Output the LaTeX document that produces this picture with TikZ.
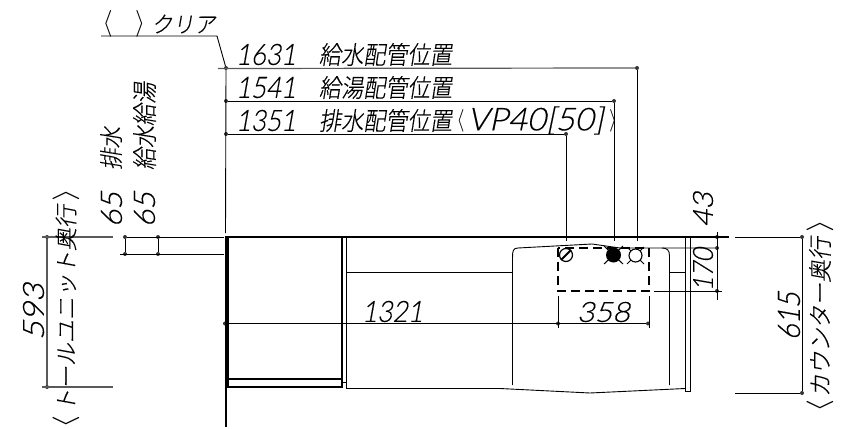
\documentclass[tikz,border=0pt]{standalone}
\usepackage{fontspec}
\usepackage{graphicx}
\newfontfamily\cadj[FakeSlant=0.18,FakeBold=0.3]{Noto Sans CJK JP Light}
\newfontfamily\cadn[FakeSlant=0.2,FakeBold=0.3]{Lato Light}
\newcommand{\fitj}[3]{\resizebox{#1pt}{#2pt}{\cadj #3}}
\newcommand{\fitn}[3]{\resizebox{#1pt}{#2pt}{\cadn #3}}
\newcommand{\fitm}[3]{\resizebox{#1pt}{#2pt}{$#3$}}
\tikzset{
  lbl/.style={inner sep=0pt,outer sep=0pt,text=black},
  thin line/.style={line width=0.9pt,draw=black},
  gray line/.style={line width=1.2pt,draw=black!65},
  heavy/.style={line width=2pt,draw=black},
  mid/.style={line width=1.2pt,draw=black},
  dashbox/.style={line width=1.6pt,draw=black,dash pattern=on 9pt off 5pt},
  ddot/.style={circle,fill=black!80,inner sep=0pt,minimum size=4pt}
}
\begin{document}
\begin{tikzpicture}[x=1pt,y=-1pt]
\useasboundingbox (0,0) rectangle (842,428);
% dimension points
\foreach \n/\x/\y in {a/226/68,b/226/101,c/226/134,d/637/68,e/614/101,f/566/134,
  g/125/237,h/158/237,i/125/254,j/158/254,k/47/237,l/47/387,m/802/237,n/802/393,
  o/717/237,p/717/248,q/717/291,r/225/323.5,s/558/323.5,t/648/323.5}
  {\node[ddot] (\n) at (\x,\y) {};}
\coordinate (l0) at (101,36); \coordinate (l1) at (217,36);
\coordinate (a0) at (218,68.5);
\coordinate (vtop) at (225.5,233);
\coordinate (d1) at (637,241); \coordinate (e1) at (614,241); \coordinate (f1) at (566,241);
\coordinate (k0) at (113,237); \coordinate (k1) at (42,237);
\coordinate (l0a) at (113,387); \coordinate (l1a) at (42,387);
\coordinate (g1) at (224,237); \coordinate (i0) at (120,254); \coordinate (i1) at (224,254);
\coordinate (m0) at (735,237); \coordinate (n0) at (735,393);
\coordinate (o0) at (717,232); \coordinate (q1) at (717,300);
\coordinate (q0) at (654,291);\coordinate (q2) at (722,291);
\coordinate (p0) at (640,248);
% dimension lines
\draw[thin line] (l0) -- (l1) -- (a);
\draw[gray line] (a0) -- (d);
\draw[thin line] (vtop) -- (a);
\draw[thin line] (b) -- (e);
\draw[thin line] (c) -- (f);
\draw[thin line] (d) -- (d1);
\draw[thin line] (e) -- (e1);
\draw[thin line] (f) -- (f1);
\draw[gray line] (k1) -- (k0);
\draw[gray line] (l1a) -- (l0a);
\draw[gray line] (k) -- (l);
\draw[thin line] (g) -- (g1);
\draw[thin line] (i0) -- (i1);
\draw[thin line] (g) -- (i);
\draw[thin line] (h) -- (j);
\draw[thin line] (m0) -- (m);
\draw[thin line] (m) -- (n);
\draw[thin line] (n0) -- (n);
\draw[thin line] (o0) -- (q1);
\draw[thin line] (q0) -- (q2);
\draw[thin line] (r) -- (t);
\draw[thin line] (558,296) -- (558,328);
\draw[thin line] (649,296) -- (649,328);
% tall unit and counter
\draw[heavy] (225,237) -- (729,237);
\draw[heavy] (225.5,237) -- (225.5,427);
\draw[mid] (228,237) -- (228,387) -- (342,387);
\draw[mid] (226,379) -- (342,379);
\draw[heavy,line width=1.4pt] (342,237) -- (342,388);
\draw[thin line] (346,237) -- (346,388);
\draw[thin line] (342,382) -- (346,382);
\draw[thin line] (346,272) -- (512,272);
\draw[thin line] (670,272) -- (685,272);
\draw[thin line] (512.5,385) -- (512.5,258) .. controls (512.5,251) and (513,248) .. (518,248) -- (592,244) -- (620,248) -- (p);
\draw[thin line] (662,248) .. controls (667,248) and (669.5,250) .. (669.5,256) -- (669.5,385);
\draw[thin line] (346,388.5) -- (500,388.5) -- (590,393) -- (685,388.5);
\draw[mid] (685.5,237) -- (685.5,391.5) -- (690.5,391.5) -- (690.5,237);
% piping area
\draw[dashbox] (558,248) rectangle (649,291);
\draw[line width=1.2pt,fill=white] (566,255) circle (6.5);
\draw[line width=1.8pt] (561,260) -- (571,250);
\draw[line width=1pt] (604,246) -- (623,264) (604,264) -- (623,246);
\fill (613.5,255) circle (7.5);
\draw[line width=1pt] (627,247) -- (644,264) (627,264) -- (644,247);
\draw[line width=1.1pt,fill=white] (635.5,255.5) circle (6.5);
% texts
\node[lbl] (t0a) at (107.5,24) {\fitm{10}{20}{\langle}};
\node[lbl] (t0b) at (140,24) {\fitm{10}{20}{\rangle}};
\node[lbl] (t0) at (183.5,24) {\fitj{64}{18}{クリア}};
\node[lbl] (t1n) at (266,54.5) {\fitn{60}{21}{1631}};
\node[lbl] (t1j) at (385.5,54.5) {\fitj{133}{21}{給水配管位置}};
\node[lbl] (t2n) at (266,87.5) {\fitn{60}{21}{1541}};
\node[lbl] (t2j) at (385.5,87.5) {\fitj{133}{21}{給湯配管位置}};
\node[lbl] (t3n) at (266,120.5) {\fitn{60}{21}{1351}};
\node[lbl] (t3j) at (385.5,120.5) {\fitj{133}{21}{排水配管位置}};
\node[lbl] (t3v) at (535.5,120.5) {\fitn{136}{24}{VP40[50]}};
\node[lbl] (t3a) at (460.5,121) {\fitm{8}{17}{\langle}};
\node[lbl] (t3b) at (613,121) {\fitm{8}{17}{\rangle}};
\node[lbl] (t1321) at (392.5,311.5) {\fitn{61}{21}{1321}};
\node[lbl] (t358) at (603.5,312) {\fitn{53}{20}{358}};
\node[lbl,rotate=90] (t65a) at (111.5,209.5) {\fitn{35}{21}{65}};
\node[lbl,rotate=90] (t65b) at (144.5,209.5) {\fitn{35}{21}{65}};
\node[lbl,rotate=90] (thai) at (111,148.5) {\fitj{43}{20}{排水}};
\node[lbl,rotate=90] (tkyu) at (144.5,126) {\fitj{88}{21}{給水給湯}};
\node[lbl,rotate=90] (ttall) at (66,308.5) {\fitj{207}{19}{トールユニット奥行}};
\node[lbl,rotate=90] (ttalla) at (66,421.5) {\fitm{13}{20}{\langle}};
\node[lbl,rotate=90] (ttallb) at (66,195) {\fitm{13}{20}{\rangle}};
\node[lbl,rotate=90] (t593) at (33.5,311.5) {\fitn{57}{21}{593}};
\node[lbl,rotate=90] (t615) at (789,316) {\fitn{48}{22}{615}};
\node[lbl,rotate=90] (tcnt) at (820,317) {\fitj{160}{20}{カウンター奥行}};
\node[lbl,rotate=90] (tcnta) at (820,405.5) {\fitm{13}{20}{\langle}};
\node[lbl,rotate=90] (tcntb) at (820,226) {\fitm{13}{20}{\rangle}};
\node[lbl,rotate=90] (t43) at (703,209.5) {\fitn{35}{20}{43}};
\node[lbl,rotate=90] (t170) at (703,269.5) {\fitn{43}{20}{170}};
\end{tikzpicture}
\end{document}
